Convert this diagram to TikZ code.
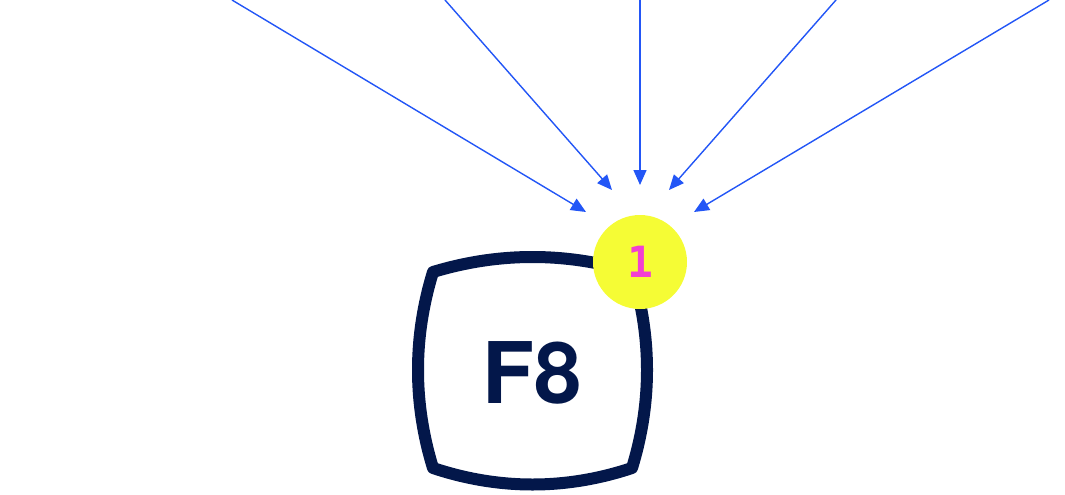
\documentclass[tikz,border=0pt]{standalone}
\usepackage{fontspec}
\setmainfont{TeX Gyre Heros}
\newfontfamily\badgefont{DejaVu Sans Mono}
\usepackage{tikz}
\usetikzlibrary{positioning,arrows.meta,calc}

\definecolor{keynavy}{HTML}{03174A}
\definecolor{arrowblue}{HTML}{2356F6}
\definecolor{badgeyellow}{HTML}{F5FC35}
\definecolor{badgepink}{HTML}{F23FD2}

\begin{document}
\begin{tikzpicture}[
		x=1pt, y=-1pt,
		>={Triangle[length=15pt,width=13pt]},   % заливные треугольные стрелки
		ray/.style={->, draw=arrowblue, fill=arrowblue, line width=1.4pt},
		keyframe/.style={draw=keynavy, line width=12pt, line join=round},
		badge/.style={circle, fill=badgeyellow, minimum size=94pt, inner sep=0pt,
			font=\badgefont\bfseries\fontsize{43}{43}\selectfont, text=badgepink}
		]
		\useasboundingbox (0,0) rectangle (1065,495);
		
		% Клавиша F8
		\coordinate (tl) at (433,272);
		\coordinate (tr) at (632,272);
		\coordinate (br) at (632,468);
		\coordinate (bl) at (433,468);
		\draw[keyframe] (tl) .. controls (499,252) and (566,252) .. (tr)
			.. controls (652,337) and (652,403) .. (br)
			.. controls (566,490) and (499,490) .. (bl)
			.. controls (413,403) and (413,337) .. cycle;
		\node[font=\bfseries\fontsize{85}{85}\selectfont, text=keynavy] (key) at (532,373) {F8};
		
		% Значок с числом
		\node[badge] (badge) at (640,262) {1};
		
		% Начала и концы лучей
		\coordinate (s1) at (232,0);
		\coordinate (s2) at (445,0);
		\coordinate (s3) at (640,0);
		\coordinate (s4) at (836,0);
		\coordinate (s5) at (1049,0);
		\coordinate (e1) at (586,212);
		\coordinate (e2) at (612,190);
		\coordinate (e3) at (640,185);
		\coordinate (e4) at (669,190);
		\coordinate (e5) at (694,212);
		
		% Рисуем стрелки
		\draw[ray] (s1) -- (e1);
		\draw[ray] (s2) -- (e2);
		\draw[ray] (s3) -- (e3);
		\draw[ray] (s4) -- (e4);
		\draw[ray] (s5) -- (e5);
	\end{tikzpicture}
\end{document}
